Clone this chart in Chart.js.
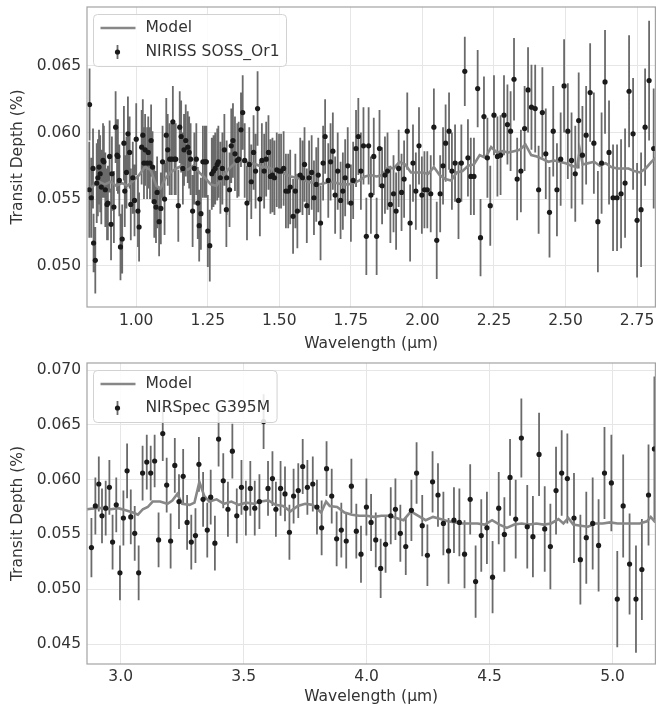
<!DOCTYPE html>
<html>
<head>
<meta charset="utf-8">
<script src="https://cdn.jsdelivr.net/npm/chart.js@4.4.1/dist/chart.umd.min.js"></script>
<style>
  html, body { margin: 0; padding: 0; background: #fff; }
  #wrap { position: relative; width: 658px; height: 711px; }
  .panel { position: absolute; left: 0; width: 658px; }
</style>
</head>
<body>
<div id="wrap">
  <div class="panel" style="top:0;height:355px"><canvas id="soss" width="658" height="355"></canvas></div>
  <div class="panel" style="top:355px;height:356px"><canvas id="g395" width="658" height="356"></canvas></div>
</div>
<script>
// ---- NIRISS SOSS order 1 (top panel) ----
const sossWl = [
  0.837,0.836,0.843,0.849,0.851,0.857,0.862,0.866,0.870,0.874,
  0.878,0.884,0.887,0.892,0.898,0.901,0.907,0.912,0.915,0.922,
  0.928,0.933,0.936,0.941,0.945,0.951,0.957,0.960,0.966,0.971,
  0.977,0.981,0.988,0.994,1.000,1.006,1.010,1.019,1.023,1.027,
  1.031,1.038,1.042,1.048,1.052,1.057,1.063,1.069,1.073,1.080,
  1.086,1.092,1.099,1.105,1.110,1.117,1.124,1.128,1.134,1.138,
  1.147,1.152,1.157,1.163,1.167,1.173,1.180,1.185,1.190,1.197,
  1.203,1.210,1.215,1.220,1.226,1.233,1.240,1.245,1.250,1.257,
  1.264,1.270,1.276,1.283,1.287,1.294,1.301,1.308,1.315,
  1.316,1.326,1.332,1.338,1.345,1.353,1.358,1.366,1.372,1.379,
  1.387,1.395,1.402,1.410,1.417,1.424,1.432,1.439,1.447,1.454,
  1.462,1.469,1.476,1.483,1.491,1.499,1.506,1.515,1.523,1.531,
  1.538,1.548,1.556,1.563,1.573,1.581,1.588,1.596,1.604,1.613,
  1.621,1.629,1.636,1.644,1.653,1.660,1.671,1.679,1.687,1.695,
  1.704,1.714,1.722,1.730,1.739,1.750,1.758,1.768,1.776,1.785,
  1.794,1.804,
  1.812,1.820,1.830,1.840,1.850,1.859,1.869,1.878,1.888,1.899,
  1.908,1.917,1.927,1.936,1.947,1.957,1.967,1.977,1.988,1.998,
  2.007,2.017,2.029,2.040,2.050,2.062,2.072,2.081,2.093,2.103,
  2.114,2.126,2.136,2.148,2.159,2.169,2.180,2.193,2.203,2.215,
  2.227,2.237,2.250,2.262,2.273,2.285,2.297,
  2.308,2.320,2.331,2.344,2.357,2.369,2.381,2.394,2.406,2.419,
  2.431,2.444,2.457,2.470,2.483,2.495,2.508,2.521,2.534,2.546,
  2.559,2.572,2.586,2.599,2.613,2.626,2.638,2.652,2.666,2.680,
  2.694,2.708,2.722,2.736,2.750,2.764,2.778,2.792,2.808
];
const sossDepth = [
  0.0621,0.0557,0.0551,0.0573,0.0517,0.0504,0.0562,0.0566,0.0574,0.0569,
  0.0559,0.0579,0.0578,0.0557,0.0546,0.0547,0.0582,0.0531,0.0569,0.0544,
  0.0604,0.0583,0.0582,0.0564,0.0514,0.0520,0.0592,0.0556,0.0570,0.0599,
  0.0585,0.0546,0.0566,0.0549,0.0595,0.0541,0.0529,0.0589,0.0598,0.0577,
  0.0587,0.0577,0.0585,0.0577,0.0594,0.0574,0.0548,0.0544,0.0555,0.0533,
  0.0543,0.0578,0.0550,0.0598,0.0587,0.0580,0.0580,0.0608,0.0580,0.0580,
  0.0545,0.0604,0.0597,0.0573,0.0587,0.0594,0.0589,0.0585,0.0580,0.0541,
  0.0573,0.0580,0.0547,0.0530,0.0539,0.0578,0.0578,0.0578,0.0526,0.0515,
  0.0569,0.0571,0.0573,0.0576,0.0578,0.0566,0.0573,0.0587,0.0542,
  0.0566,0.0557,0.0590,0.0594,0.0584,0.0579,0.0580,0.0602,0.0615,0.0579,
  0.0547,0.0576,0.0563,0.0585,0.0571,0.0618,0.0550,0.0579,0.0571,0.0580,
  0.0585,0.0567,0.0568,0.0566,0.0572,0.0571,0.0571,0.0573,0.0556,0.0556,
  0.0559,0.0537,0.0556,0.0541,0.0568,0.0566,0.0576,0.0545,0.0566,0.0570,
  0.0551,0.0561,0.0568,0.0532,0.0577,0.0597,0.0564,0.0578,0.0586,0.0553,
  0.0571,0.0549,0.0556,0.0566,0.0575,0.0547,0.0564,0.0588,0.0597,0.0571,
  0.0590,0.0522,
  0.0590,0.0553,0.0582,0.0522,0.0588,0.0560,0.0568,0.0571,0.0546,0.0554,
  0.0541,0.0573,0.0555,0.0565,0.0601,0.0532,0.0577,0.0556,0.0590,0.0553,
  0.0557,0.0557,0.0554,0.0604,0.0519,0.0554,0.0575,0.0592,0.0601,0.0571,
  0.0577,0.0549,0.0577,0.0646,0.0581,0.0567,0.0567,0.0633,0.0521,0.0612,
  0.0581,0.0545,0.0613,0.0582,0.0583,0.0613,0.0606,
  0.0601,0.0640,0.0565,0.0571,0.0603,0.0632,0.0619,0.0618,0.0557,0.0615,
  0.0584,0.0540,0.0601,0.0557,0.0580,0.0635,0.0601,0.0579,0.0569,0.0609,
  0.0583,0.0598,0.0630,0.0592,0.0533,0.0577,0.0638,0.0585,0.0551,0.0551,
  0.0554,0.0562,0.0631,0.0599,0.0534,0.0542,0.0604,0.0639,0.0588
];
const sossErr = [
  0.0027,0.0036,0.0030,0.0030,0.0022,0.0025,0.0030,0.0029,0.0028,0.0029,
  0.0028,0.0028,0.0027,0.0028,0.0027,0.0028,0.0027,0.0027,0.0028,0.0027,
  0.0027,0.0027,0.0028,0.0027,0.0025,0.0026,0.0028,0.0027,0.0027,0.0028,
  0.0027,0.0027,0.0027,0.0027,0.0027,0.0027,0.0026,0.0028,0.0027,0.0027,
  0.0027,0.0027,0.0027,0.0027,0.0027,0.0027,0.0027,0.0027,0.0027,0.0026,
  0.0027,0.0027,0.0027,0.0028,0.0027,0.0027,0.0027,0.0027,0.0027,0.0027,
  0.0027,0.0027,0.0027,0.0027,0.0027,0.0027,0.0027,0.0027,0.0027,0.0027,
  0.0027,0.0027,0.0027,0.0027,0.0027,0.0027,0.0027,0.0027,0.0027,0.0027,
  0.0027,0.0027,0.0027,0.0027,0.0027,0.0027,0.0027,0.0027,0.0028,
  0.0028,0.0028,0.0028,0.0028,0.0028,0.0028,0.0028,0.0028,0.0028,0.0028,
  0.0028,0.0028,0.0028,0.0028,0.0028,0.0028,0.0028,0.0028,0.0028,0.0028,
  0.0028,0.0028,0.0028,0.0028,0.0028,0.0028,0.0028,0.0028,0.0028,0.0028,
  0.0028,0.0028,0.0028,0.0028,0.0028,0.0028,0.0028,0.0028,0.0028,0.0028,
  0.0028,0.0028,0.0028,0.0028,0.0028,0.0028,0.0028,0.0029,0.0029,0.0029,
  0.0029,0.0029,0.0029,0.0029,0.0029,0.0029,0.0029,0.0029,0.0029,0.0029,
  0.0029,0.0029,
  0.0029,0.0029,0.0029,0.0029,0.0029,0.0029,0.0029,0.0029,0.0029,0.0029,
  0.0029,0.0029,0.0029,0.0029,0.0029,0.0029,0.0029,0.0029,0.0029,0.0029,
  0.0029,0.0029,0.0029,0.0029,0.0029,0.0029,0.0029,0.0029,0.0029,0.0029,
  0.0029,0.0029,0.0029,0.0026,0.0029,0.0029,0.0029,0.0029,0.0029,0.0030,
  0.0030,0.0030,0.0030,0.0030,0.0030,0.0030,0.0030,
  0.0030,0.0031,0.0031,0.0031,0.0032,0.0032,0.0032,0.0033,0.0033,0.0034,
  0.0034,0.0034,0.0034,0.0035,0.0035,0.0035,0.0036,0.0036,0.0036,0.0036,
  0.0037,0.0037,0.0037,0.0038,0.0038,0.0038,0.0039,0.0039,0.0040,0.0040,
  0.0041,0.0041,0.0042,0.0042,0.0043,0.0043,0.0044,0.0045,0.0045
];
const sossModelWl = [
  0.828,0.85,0.87,0.89,0.91,0.93,0.95,0.97,0.99,1.01,
  1.03,1.05,1.07,1.085,1.10,1.12,1.14,1.16,1.18,1.20,
  1.22,1.24,1.26,1.28,1.30,1.32,1.34,1.36,1.38,1.40,
  1.42,1.44,1.46,1.48,1.50,1.52,1.54,1.56,1.58,1.60,
  1.62,1.64,1.66,1.68,1.70,1.72,1.74,1.76,1.78,1.80,
  1.82,1.84,1.86,1.88,1.90,1.92,1.94,1.96,1.98,2.00,
  2.02,2.04,2.06,2.08,2.10,2.12,2.14,2.16,2.18,2.20,
  2.22,2.24,2.26,2.28,2.30,2.32,2.34,2.36,2.38,2.40,
  2.42,2.44,2.46,2.48,2.50,2.52,2.54,2.55,2.56,2.58,
  2.60,2.62,2.64,2.66,2.68,2.70,2.72,2.74,2.76,2.78,
  2.80,2.814
];
const sossModelDepth = [
  0.0556,0.0560,0.0563,0.0561,0.0563,0.0560,0.0562,0.0560,0.0564,0.0568,
  0.0574,0.0572,0.0560,0.0558,0.0565,0.0570,0.0573,0.0575,0.0572,0.0575,
  0.0570,0.0566,0.0561,0.0560,0.0566,0.0572,0.0576,0.0579,0.0578,0.0577,
  0.0576,0.0574,0.0574,0.0572,0.0571,0.0569,0.0567,0.0566,0.0565,0.0563,
  0.0562,0.0561,0.0562,0.0563,0.0562,0.0561,0.0561,0.0562,0.0564,0.0567,
  0.0568,0.0567,0.0568,0.0574,0.0573,0.0578,0.0576,0.0570,0.0570,0.0570,
  0.0569,0.0574,0.0568,0.0565,0.0564,0.0570,0.0571,0.0575,0.0576,0.0583,
  0.0581,0.0589,0.0585,0.0586,0.0585,0.0586,0.0587,0.0591,0.0583,0.0582,
  0.0580,0.0578,0.0579,0.0578,0.0577,0.0575,0.0574,0.0587,0.0576,0.0577,
  0.0578,0.0575,0.0577,0.0574,0.0573,0.0573,0.0573,0.0571,0.0570,0.0573,
  0.0578,0.0581
];
const sossXTicks = [1.00, 1.25, 1.50, 1.75, 2.00, 2.25, 2.50, 2.75];
const sossYTicks = [0.050, 0.055, 0.060, 0.065];

// ---- NIRSpec G395M (bottom panel) ----
const g395Wl = [
  2.881,2.897,2.911,2.924,2.939,2.954,2.967,2.982,2.997,3.011,
  3.026,3.041,3.057,3.073,3.089,3.106,3.122,3.138,3.154,3.171,
  3.187,3.203,3.220,3.237,3.254,3.270,3.287,3.304,3.318,3.335,
  3.352,3.366,3.383,3.398,3.417,3.436,3.454,3.472,3.491,3.509,
  3.527,3.545,3.564,3.581,3.599,3.617,3.631,3.650,3.668,3.686,
  3.703,3.722,3.740,3.759,3.781,3.798,3.817,3.837,3.858,3.878,
  3.897,3.917,3.938,3.958,3.977,3.999,4.018,4.037,4.057,4.077,
  4.098,4.117,4.137,4.159,4.182,4.203,4.226,4.247,4.268,4.290,
  4.312,4.333,4.355,4.377,4.398,4.421,4.443,4.466,4.489,4.512,
  4.537,4.560,4.583,4.606,4.629,4.653,4.676,4.701,4.724,4.747,
  4.770,4.793,4.816,4.843,4.869,4.893,4.919,4.943,4.967,4.995,
  5.019,5.043,5.069,5.095,5.119,5.146,5.170
];
const g395Depth = [
  0.0538,0.0576,0.0596,0.0567,0.0574,0.0593,0.0543,0.0577,0.0515,0.0565,
  0.0608,0.0566,0.0551,0.0515,0.0606,0.0616,0.0606,0.0617,0.0545,0.0642,
  0.0595,0.0544,0.0613,0.0580,0.0603,0.0561,0.0543,0.0549,0.0614,0.0582,
  0.0554,0.0584,0.0542,0.0637,0.0599,0.0573,0.0626,0.0567,0.0593,0.0574,
  0.0592,0.0574,0.0580,0.0653,0.0592,0.0601,0.0573,0.0592,0.0587,0.0552,
  0.0585,0.0590,0.0612,0.0593,0.0596,0.0575,0.0556,0.0610,0.0585,0.0546,
  0.0554,0.0544,0.0594,0.0553,0.0532,0.0575,0.0561,0.0545,0.0519,0.0541,
  0.0567,0.0573,0.0551,0.0539,0.0572,0.0606,0.0558,0.0531,0.0598,0.0586,
  0.0560,0.0535,0.0563,0.0561,0.0532,0.0582,0.0507,0.0549,0.0556,0.0511,
  0.0574,0.0550,0.0602,0.0564,0.0638,0.0557,0.0548,0.0623,0.0555,0.0539,
  0.0590,0.0606,0.0601,0.0565,0.0527,0.0547,0.0560,0.0540,0.0606,0.0597,
  0.0491,0.0576,0.0523,0.0491,0.0518,0.0586,0.0628
];
const g395Err = [
  0.0027,0.0026,0.0025,0.0025,0.0025,0.0025,0.0025,0.0025,0.0025,0.0025,
  0.0025,0.0025,0.0025,0.0025,0.0025,0.0025,0.0025,0.0024,0.0025,0.0025,
  0.0025,0.0025,0.0025,0.0025,0.0025,0.0025,0.0025,0.0025,0.0025,0.0025,
  0.0025,0.0025,0.0025,0.0025,0.0025,0.0025,0.0025,0.0025,0.0025,0.0025,
  0.0025,0.0025,0.0025,0.0025,0.0025,0.0025,0.0025,0.0025,0.0025,0.0025,
  0.0025,0.0025,0.0025,0.0025,0.0025,0.0025,0.0025,0.0025,0.0025,0.0025,
  0.0025,0.0025,0.0025,0.0025,0.0026,0.0026,0.0026,0.0025,0.0027,0.0026,
  0.0026,0.0028,0.0026,0.0026,0.0028,0.0028,0.0028,0.0028,0.0028,0.0029,
  0.0029,0.0030,0.0030,0.0031,0.0031,0.0032,0.0033,0.0033,0.0033,0.0033,
  0.0033,0.0034,0.0035,0.0036,0.0036,0.0038,0.0037,0.0038,0.0039,0.0039,
  0.0040,0.0039,0.0041,0.0041,0.0041,0.0042,0.0042,0.0042,0.0042,0.0044,
  0.0044,0.0047,0.0046,0.0049,0.0046,0.0046,0.0066
];
const g395ModelWl = [
  2.863,2.90,2.93,2.96,2.99,3.02,3.05,3.07,3.09,3.11,
  3.13,3.16,3.19,3.21,3.23,3.25,3.28,3.30,3.32,3.34,
  3.36,3.39,3.42,3.45,3.48,3.51,3.54,3.57,3.60,3.63,
  3.66,3.69,3.72,3.75,3.78,3.815,3.835,3.85,3.88,3.91,
  3.94,3.97,4.00,4.03,4.06,4.09,4.12,4.15,4.18,4.21,
  4.24,4.27,4.30,4.33,4.36,4.39,4.42,4.45,4.48,4.51,
  4.54,4.57,4.60,4.63,4.66,4.69,4.72,4.75,4.78,4.80,
  4.82,4.84,4.87,4.90,4.93,4.96,4.99,5.02,5.05,5.08,
  5.11,5.14,5.155,5.174
];
const g395ModelDepth = [
  0.0573,0.0574,0.0574,0.0573,0.0574,0.0572,0.0570,0.0568,0.0573,0.0575,
  0.0580,0.0580,0.0578,0.0581,0.0587,0.0578,0.0577,0.0579,0.0598,0.0585,
  0.0580,0.0582,0.0578,0.0580,0.0577,0.0579,0.0578,0.0580,0.0581,0.0577,
  0.0576,0.0571,0.0576,0.0578,0.0577,0.0570,0.0580,0.0576,0.0575,0.0570,
  0.0568,0.0567,0.0567,0.0566,0.0567,0.0567,0.0565,0.0563,0.0571,0.0567,
  0.0563,0.0566,0.0564,0.0562,0.0561,0.0560,0.0560,0.0560,0.0559,0.0563,
  0.0559,0.0556,0.0559,0.0560,0.0559,0.0560,0.0559,0.0560,0.0564,0.0560,
  0.0565,0.0559,0.0558,0.0557,0.0560,0.0560,0.0561,0.0560,0.0560,0.0560,
  0.0560,0.0562,0.0566,0.0561
];
const g395XTicks = [3.0, 3.5, 4.0, 4.5, 5.0];
const g395YTicks = [0.045, 0.050, 0.055, 0.060, 0.065, 0.070];

// ---- styling ----
const FONT = 'DejaVu Sans';
const TEXT = '#333333';
const ERR_COLOR = '#6a6a6a';
Chart.defaults.font.family = FONT;
Chart.defaults.font.size = 15.5;
Chart.defaults.color = TEXT;

// vertical error bars, drawn under the markers
const errorBars = {
  id: 'errorBars',
  beforeDatasetsDraw(chart, args, opts) {
    const ctx = chart.ctx, xs = chart.scales.x, ys = chart.scales.y, a = chart.chartArea;
    ctx.save();
    ctx.beginPath();
    ctx.rect(a.left, a.top, a.right - a.left, a.bottom - a.top);
    ctx.clip();
    ctx.strokeStyle = ERR_COLOR;
    ctx.lineWidth = 1.8;
    ctx.beginPath();
    opts.wl.forEach((w, i) => {
      const px = xs.getPixelForValue(w);
      ctx.moveTo(px, ys.getPixelForValue(opts.depth[i] - opts.err[i]));
      ctx.lineTo(px, ys.getPixelForValue(opts.depth[i] + opts.err[i]));
    });
    ctx.stroke();
    ctx.restore();
  }
};

// box round the plot area
const frame = {
  id: 'frame',
  afterDatasetsDraw(chart) {
    const ctx = chart.ctx, a = chart.chartArea;
    ctx.save();
    ctx.strokeStyle = '#a3a3a3';
    ctx.lineWidth = 1.2;
    ctx.strokeRect(a.left, a.top, a.right - a.left, a.bottom - a.top);
    ctx.restore();
  }
};

// matplotlib style legend in the upper left corner
const cornerLegend = {
  id: 'cornerLegend',
  afterDraw(chart, args, opts) {
    const ctx = chart.ctx, a = chart.chartArea;
    const x0 = a.left + 6.5, y0 = a.top + 7.5;
    ctx.save();
    ctx.font = '15.5px "' + FONT + '"';
    const w = 52 + Math.max(ctx.measureText(opts.model).width, ctx.measureText(opts.data).width) + 7;
    const h = 52;
    ctx.fillStyle = 'rgba(255,255,255,0.85)';
    ctx.strokeStyle = '#d2d2d2';
    ctx.lineWidth = 1;
    ctx.beginPath();
    ctx.roundRect(x0, y0, w, h, 4);
    ctx.fill();
    ctx.stroke();
    const r1 = y0 + 13.5, r2 = y0 + 37.5;
    ctx.strokeStyle = '#878787';
    ctx.lineWidth = 2.6;
    ctx.beginPath();
    ctx.moveTo(x0 + 7, r1);
    ctx.lineTo(x0 + 42, r1);
    ctx.stroke();
    ctx.strokeStyle = ERR_COLOR;
    ctx.lineWidth = 1.8;
    ctx.beginPath();
    ctx.moveTo(x0 + 24, r2 - 7);
    ctx.lineTo(x0 + 24, r2 + 7);
    ctx.stroke();
    ctx.fillStyle = '#1a1a1a';
    ctx.beginPath();
    ctx.arc(x0 + 24, r2, 2.6, 0, Math.PI * 2);
    ctx.fill();
    ctx.fillStyle = TEXT;
    ctx.textBaseline = 'middle';
    ctx.fillText(opts.model, x0 + 52, r1);
    ctx.fillText(opts.data, x0 + 52, r2);
    ctx.restore();
  }
};

function makePanel(id, p) {
  const points = p.wl.map((w, i) => ({ x: w, y: p.depth[i] }));
  const model = p.modelWl.map((w, i) => ({ x: w, y: p.modelDepth[i] }));
  return new Chart(document.getElementById(id), {
    type: 'scatter',
    data: {
      datasets: [
        { label: p.label, data: points, pointRadius: 2.6, pointHoverRadius: 2.6,
          backgroundColor: '#1a1a1a', borderWidth: 0 },
        { label: 'Model', data: model, showLine: true, pointRadius: 0,
          borderColor: '#878787', borderWidth: 2.6, fill: false }
      ]
    },
    options: {
      responsive: false,
      animation: false,
      events: [],
      layout: { padding: { top: p.padTop, right: 1, left: 0, bottom: 0 } },
      plugins: {
        legend: { display: false },
        tooltip: { enabled: false },
        errorBars: { wl: p.wl, depth: p.depth, err: p.err },
        cornerLegend: { model: 'Model', data: p.label }
      },
      scales: {
        x: {
          type: 'linear', min: p.xMin, max: p.xMax,
          afterBuildTicks: s => { s.ticks = p.xTicks.map(v => ({ value: v })); },
          afterFit: s => { s.height = p.xHeight; s.paddingLeft = 0; s.paddingRight = 0; },
          ticks: { callback: v => v.toFixed(p.xDec), padding: p.xPad, color: TEXT },
          grid: { color: '#e6e6e6', drawTicks: false },
          border: { display: false },
          title: { display: true, text: 'Wavelength (μm)', color: TEXT,
                   padding: { top: 0, bottom: p.titlePad } }
        },
        y: {
          type: 'linear', min: p.yMin, max: p.yMax,
          afterBuildTicks: s => { s.ticks = p.yTicks.map(v => ({ value: v })); },
          afterFit: s => { s.width = 87; s.paddingTop = 0; s.paddingBottom = 0; },
          ticks: { callback: v => v.toFixed(3), padding: 6, color: TEXT },
          grid: { color: '#e6e6e6', drawTicks: false },
          border: { display: false },
          title: { display: true, text: 'Transit Depth (%)', color: TEXT,
                   padding: { top: 9, bottom: 0 } }
        }
      }
    },
    plugins: [errorBars, frame, cornerLegend]
  });
}

makePanel('soss', {
  label: 'NIRISS SOSS_Or1',
  wl: sossWl, depth: sossDepth, err: sossErr,
  modelWl: sossModelWl, modelDepth: sossModelDepth,
  xTicks: sossXTicks, yTicks: sossYTicks, xDec: 2,
  xMin: 0.828, xMax: 2.814, yMin: 0.04689, yMax: 0.06943,
  padTop: 7, xHeight: 48, xPad: 5, titlePad: 2
});

makePanel('g395', {
  label: 'NIRSpec G395M',
  wl: g395Wl, depth: g395Depth, err: g395Err,
  modelWl: g395ModelWl, modelDepth: g395ModelDepth,
  xTicks: g395XTicks, yTicks: g395YTicks, xDec: 1,
  xMin: 2.863, xMax: 5.174, yMin: 0.04318, yMax: 0.07064,
  padTop: 8, xHeight: 47, xPad: 4, titlePad: 5
});
</script>
</body>
</html>
